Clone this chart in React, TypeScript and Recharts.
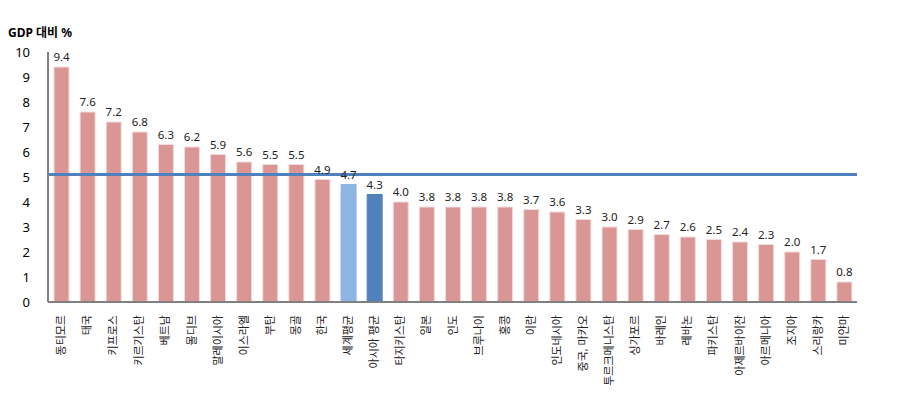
import { BarChart, Bar, XAxis, YAxis, Cell, LabelList, ReferenceLine } from 'recharts'

const countries = [
  '동티모르', '태국', '키프로스', '키르기스탄', '베트남', '몰디브', '말레이시아', '이스라엘',
  '부탄', '몽골', '한국', '세계평균', '아시아 평균', '타지키스탄', '일본', '인도', '브루나이',
  '홍콩', '이란', '인도네시아', '중국, 마카오', '투르크메니스탄', '싱가포르', '바레인', '레바논',
  '파키스탄', '아제르바이잔', '아르메니아', '조지아', '스리랑카', '미얀마',
]
const values = [
  9.4, 7.6, 7.2, 6.8, 6.3, 6.2, 5.9, 5.6, 5.5, 5.5, 4.9, 4.7, 4.3, 4.0, 3.8, 3.8, 3.8,
  3.8, 3.7, 3.6, 3.3, 3.0, 2.9, 2.7, 2.6, 2.5, 2.4, 2.3, 2.0, 1.7, 0.8,
]
const yTicks = [0, 1, 2, 3, 4, 5, 6, 7, 8, 9, 10]
const benchmark = 5.1

const PINK = '#D99694'
const LIGHT_BLUE = '#8DB4E2'
const DARK_BLUE = '#4F81BD'
const FONT = '"Noto Sans", "Noto Sans CJK KR", sans-serif'

const data = countries.map((name, i) => ({ name, value: values[i] }))

const barColor = (name: string) => {
  if (name === '세계평균') return LIGHT_BLUE
  if (name === '아시아 평균') return DARK_BLUE
  return PINK
}

// vertical category labels, reading bottom to top, hanging under the axis
const CountryTick = (props: any) => {
  const { x, y, payload } = props
  return (
    <text
      x={x}
      y={y}
      transform={`rotate(-90, ${x}, ${y})`}
      dy={4}
      dx={-5}
      textAnchor="end"
      fontSize={11}
      fill="#222"
      fontFamily={FONT}
    >
      {payload.value}
    </text>
  )
}

const App = () => {
  return (
    <div style={{ position: 'relative', width: 886, height: 388, fontFamily: FONT }}>
      <div style={{ position: 'absolute', left: 0, top: 18, fontSize: 12, lineHeight: '14px', fontWeight: 'bold', color: '#000' }}>
        GDP 대비 %
      </div>
      <BarChart
        width={886}
        height={388}
        data={data}
        margin={{ top: 44, right: 37, left: 0, bottom: 0 }}
        barSize={15}
      >
        <XAxis
          dataKey="name"
          interval={0}
          height={94}
          tickLine={false}
          axisLine={{ stroke: '#808080', strokeWidth: 2 }}
          tick={<CountryTick />}
        />
        <YAxis
          width={40}
          domain={[0, 10]}
          ticks={yTicks}
          interval={0}
          tickLine={false}
          axisLine={{ stroke: '#808080', strokeWidth: 2 }}
          tick={{ fill: '#000', fontSize: 13, fontFamily: FONT }}
          tickMargin={12}
        />
        <Bar dataKey="value" isAnimationActive={false} stroke="#F2DCDB" strokeWidth={1}>
          {data.map((d) => (
            <Cell key={d.name} fill={barColor(d.name)} stroke={d.name === '세계평균' || d.name === '아시아 평균' ? barColor(d.name) : '#F2DCDB'} />
          ))}
          <LabelList
            dataKey="value"
            position="top"
            offset={6}
            formatter={(v: any) => Number(v).toFixed(1)}
            style={{ fontSize: 11.5, fill: '#222', fontFamily: FONT }}
          />
        </Bar>
        <ReferenceLine y={benchmark} stroke={DARK_BLUE} strokeWidth={3} ifOverflow="extendDomain" />
      </BarChart>
    </div>
  )
}

export default App
